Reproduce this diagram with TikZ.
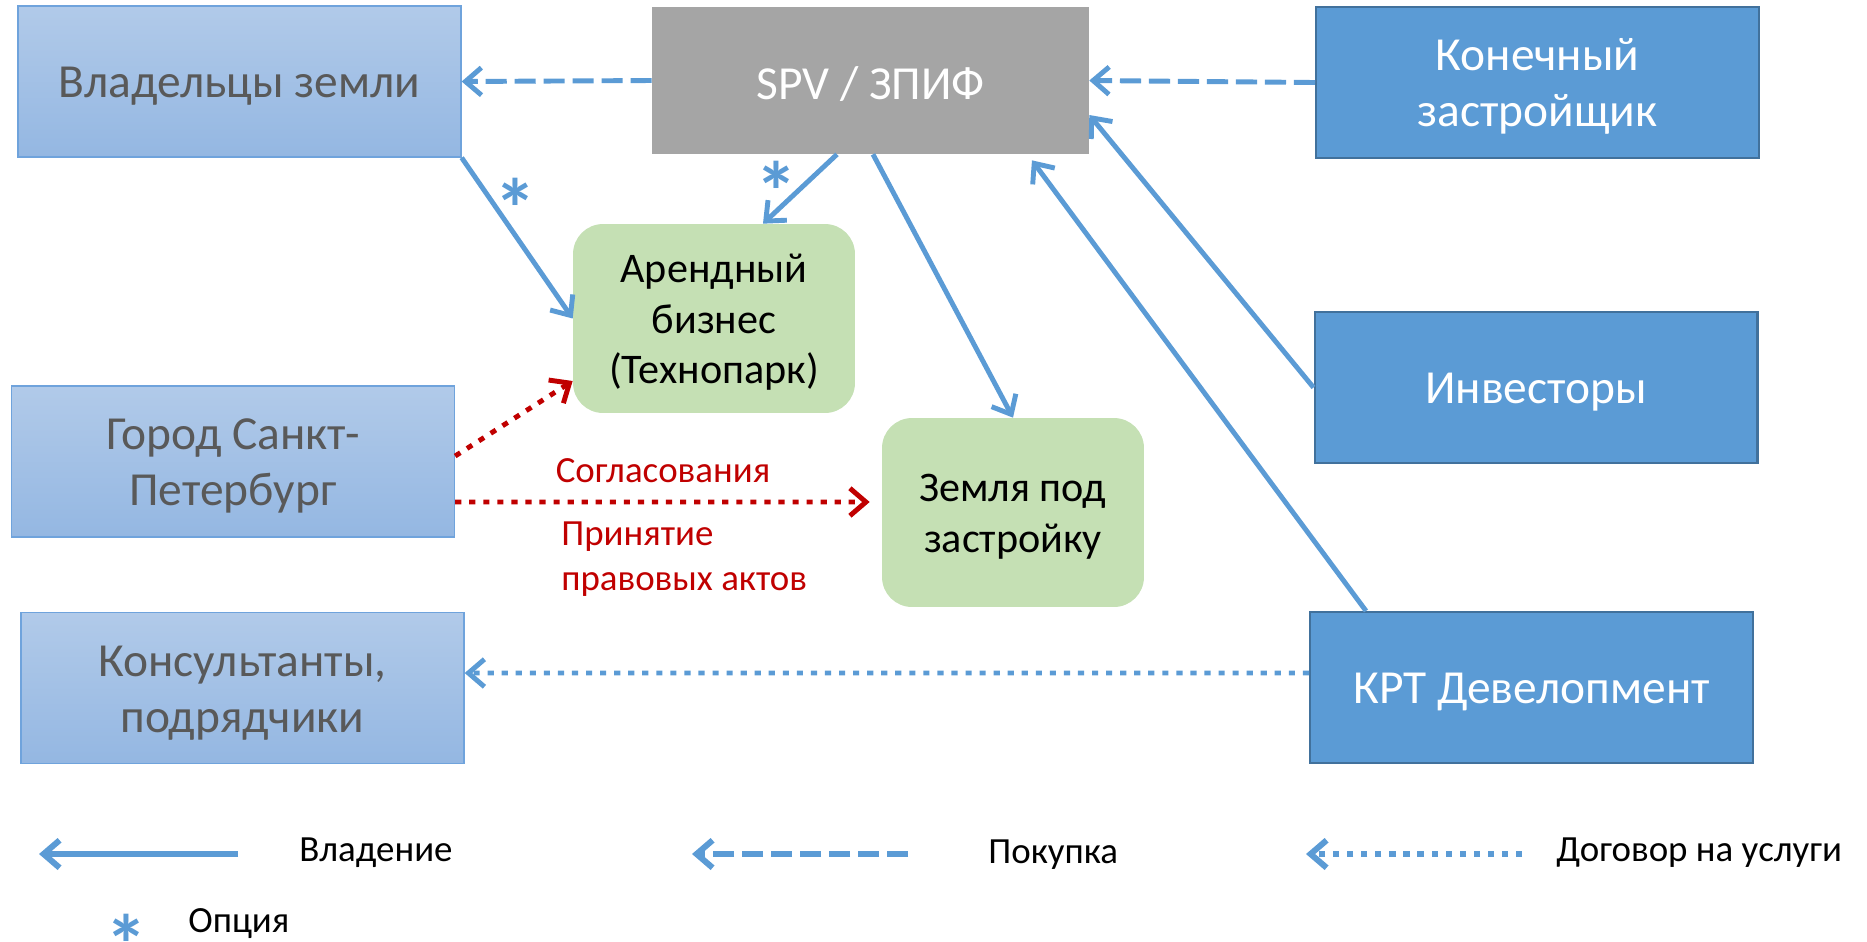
\documentclass[tikz,border=0pt]{standalone}
\usepackage{fontspec}
\setmainfont{Carlito}
\usetikzlibrary{arrows.meta}
\definecolor{lineblue}{HTML}{5B9BD5}
\definecolor{sideedge}{HTML}{41719C}
\definecolor{boxtop}{HTML}{B1CAE9}
\definecolor{boxbot}{HTML}{94B7E2}
\definecolor{boxedge}{HTML}{6FA3DC}
\definecolor{textgrey}{HTML}{595959}
\definecolor{fundgrey}{HTML}{A5A5A5}
\definecolor{assetgreen}{HTML}{C5E0B4}
\definecolor{cityred}{HTML}{C00000}
\newcommand{\capstrut}{\rule{0pt}{0.85em}}
\newcommand{\optstar}{\raisebox{0pt}[\height][-0.4em]{*}}

\begin{document}
\begin{tikzpicture}[x=0.02cm,y=-0.02cm,
    landbox/.style={align=center,draw=boxedge,line width=0.8pt,top color=boxtop,bottom color=boxbot,text=textgrey,minimum width=8.86cm,minimum height=3.02cm,font=\fontsize{27}{32}\selectfont},
    fundbox/.style={align=center,fill=fundgrey,text=white,minimum width=8.74cm,minimum height=2.94cm,font=\fontsize{27}{32}\selectfont},
    sidebox/.style={align=center,draw=sideedge,line width=1.2pt,fill=lineblue,text=white,minimum width=8.86cm,minimum height=3.02cm,font=\fontsize{27}{32}\selectfont},
    assetbox/.style={align=center,fill=assetgreen,rounded corners=0.6cm,minimum height=3.78cm,font=\fontsize{24}{29}\selectfont},
    holds/.style={draw=lineblue,line width=2.8pt,-{Straight Barb[length=0.32cm,width=0.55cm]}},
    buys/.style={holds,dash pattern=on 12pt off 4.5pt},
    services/.style={holds,dash pattern=on 3.5pt off 4.5pt},
    approves/.style={draw=cityred,line width=2.8pt,dash pattern=on 3.5pt off 4.5pt,-{Straight Barb[length=0.32cm,width=0.55cm]}},
    keyline/.style={line width=3.4pt},
    redtext/.style={text=cityred,inner sep=0pt,font=\fontsize{21}{26}\selectfont},
    keytext/.style={anchor=west,inner sep=0pt,font=\fontsize{21}{26}\selectfont},
    optmark/.style={anchor=north,text=lineblue,inner sep=0pt,font=\bfseries\fontsize{48}{48}\selectfont}]
  \useasboundingbox (0,0) rectangle (1867,941);
  \path
    (239.5,81.5)   node[landbox]  (owners)    {\capstrut Владельцы земли}
    (870.5,80.5)   node[fundbox]  (spv)       {\capstrut SPV / ЗПИФ}
    (1537.5,82.5)  node[sidebox]  (builder)   {\capstrut Конечный\\застройщик}
    (714,318.5)    node[assetbox,minimum width=5.64cm] (rentbiz) {\capstrut Арендный\\бизнес\\(Технопарк)}
    (1536,387.5)   node[sidebox]  (investors) {\capstrut Инвесторы}
    (233,461.5)    node[landbox]  (city)      {\capstrut Город Санкт-\\Петербург}
    (1013,512.5)   node[assetbox,minimum width=5.24cm] (land) {\capstrut Земля под\\застройку}
    (242.5,688)    node[landbox]  (consult)   {\capstrut Консультанты,\\подрядчики}
    (1531.5,687.5) node[sidebox]  (krt)       {\capstrut КРТ Девелопмент};
  \node[optmark] (opt1) at (515,178) {\optstar};
  \node[optmark] (opt2) at (776,161) {\optstar};
  \node[redtext] (agree) at (663,471) {Согласования};
  \node[redtext,anchor=west,align=left] (acts) at (561,559) {Принятие\\правовых актов};
  \draw[buys] (spv.west) -- (owners.east);
  \draw[buys] (builder.west) -- (spv.east);
  \draw[holds] (owners.south east) -- (rentbiz.west);
  \draw[holds] ([xshift=-0.67cm]spv.south) -- ([xshift=0.98cm]rentbiz.north);
  \draw[holds] ([xshift=0.05cm]spv.south) -- (land.north);
  \draw[holds] (investors.west) -- ([yshift=-0.69cm]spv.east);
  \draw[holds] ([xshift=-3.31cm]krt.north) -- ([xshift=3.23cm,yshift=-0.12cm]spv.south);
  \draw[approves] ([yshift=0.11cm]city.east) -- ([yshift=-1.25cm]rentbiz.west);
  \draw[approves,shorten >=0.24cm] ([yshift=-0.81cm]city.east) -- ([yshift=0.21cm]land.west);
  \draw[services] ([yshift=0.29cm]krt.west) -- ([yshift=0.3cm]consult.east);
  % legend
  \coordinate (k1a) at (39,854);   \coordinate (k1b) at (238,854);
  \coordinate (k2a) at (692,854);  \coordinate (k2b) at (908,854);
  \coordinate (k3a) at (1306,854); \coordinate (k3b) at (1522,854);
  \draw[holds,keyline] (k1b) -- (k1a);
  \draw[buys,keyline] (k2b) -- (k2a);
  \draw[services,keyline] (k3b) -- (k3a);
  \node[keytext] (keyown) at (299,853) {Владение};
  \node[keytext] (keybuy) at (988,855) {Покупка};
  \node[keytext] (keyserv) at (1556,853) {Договор на услуги};
  \node[optmark] (opt3) at (126,914) {\optstar};
  \node[keytext] (keyopt) at (188,924) {Опция};
\end{tikzpicture}
\end{document}
